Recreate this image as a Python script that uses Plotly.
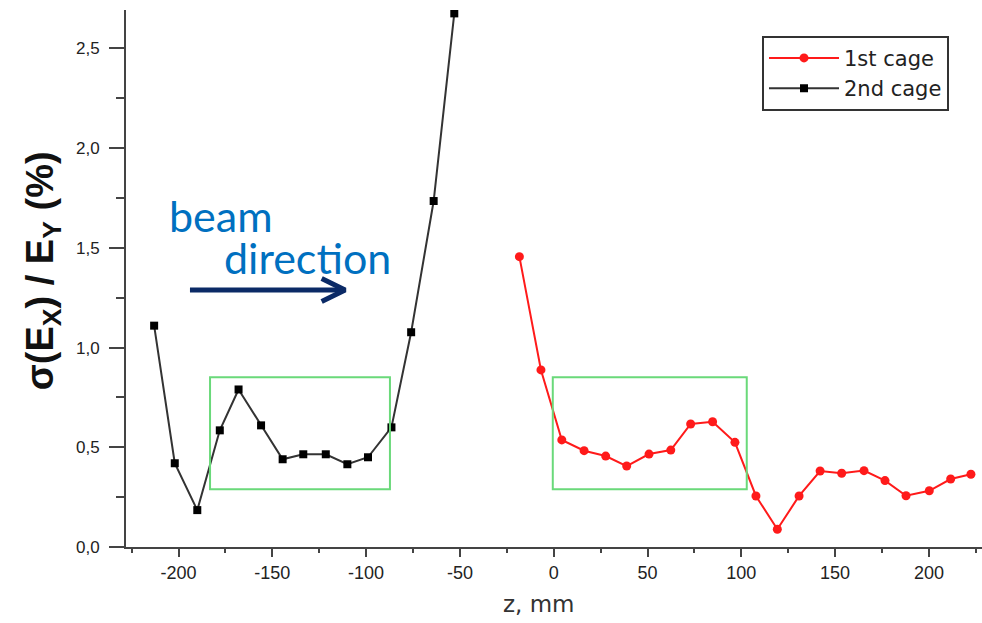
import plotly.graph_objects as go

# 2nd cage (black squares)
z_cage2 = [-213, -202, -190, -178, -168, -156, -144.5, -133.5, -121.5, -110, -99, -86.5, -76, -64, -53]
v_cage2 = [1.11, 0.42, 0.185, 0.585, 0.79, 0.61, 0.44, 0.465, 0.465, 0.415, 0.45, 0.60, 1.077, 1.735, 2.676]

# 1st cage (red circles)
z_cage1 = [-18.3, -6.8, 4.3, 16.2, 27.7, 38.9, 50.8, 62.4, 73, 84.7, 96.6, 107.8, 119.2,
           130.8, 142, 153.5, 165.4, 176.6, 187.8, 200.2, 211.6, 222.4]
v_cage1 = [1.456, 0.888, 0.537, 0.483, 0.456, 0.406, 0.466, 0.486, 0.617, 0.628, 0.525, 0.256,
           0.089, 0.256, 0.381, 0.37, 0.383, 0.333, 0.257, 0.282, 0.341, 0.365]

# green highlight boxes (z ranges, y range)
box_z = [(-183.2, -87.3), (-0.5, 102.9)]
box_y = (0.289, 0.851)

# beam direction arrow
arrow_z = (-193.9, -111.2)
arrow_y = 1.289
head_dz = 12.5
head_dy = 0.058

x_ticks = [-200, -150, -100, -50, 0, 50, 100, 150, 200]
x_ticklabels = ["-200", "-150", "-100", "-50", "0", "50", "100", "150", "200"]
y_ticks = [0.0, 0.5, 1.0, 1.5, 2.0, 2.5]
y_ticklabels = ["0,0", "0,5", "1,0", "1,5", "2,0", "2,5"]

fig = go.Figure()

for (z0, z1) in box_z:
    fig.add_shape(type="rect", xref="x", yref="y", x0=z0, x1=z1, y0=box_y[0], y1=box_y[1],
                  line=dict(color="#6ad97a", width=2), fillcolor="rgba(0,0,0,0)")

fig.add_trace(go.Scatter(
    x=z_cage1, y=v_cage1, mode="lines+markers", name="1st cage",
    line=dict(color="#ff1a1a", width=2),
    marker=dict(symbol="circle", size=9, color="#ff1a1a"),
))
fig.add_trace(go.Scatter(
    x=z_cage2, y=v_cage2, mode="lines+markers", name="2nd cage",
    line=dict(color="#333333", width=2),
    marker=dict(symbol="square", size=8, color="#000000"),
))

# arrow
fig.add_trace(go.Scatter(
    x=[arrow_z[0], arrow_z[1], None, arrow_z[1] - head_dz, arrow_z[1], arrow_z[1] - head_dz],
    y=[arrow_y, arrow_y, None, arrow_y + head_dy, arrow_y, arrow_y - head_dy],
    mode="lines", line=dict(color="#0b2a66", width=5), showlegend=False, hoverinfo="skip",
))

fig.add_annotation(x=-206, y=1.66, xref="x", yref="y", text="beam", showarrow=False,
                   xanchor="left", yanchor="middle",
                   font=dict(family="Lato", size=43, color="#0070c0"))
fig.add_annotation(x=-177, y=1.45, xref="x", yref="y", text="direction", showarrow=False,
                   xanchor="left", yanchor="middle",
                   font=dict(family="Lato", size=43, color="#0070c0"))

# y-axis title as annotation
fig.add_annotation(x=-0.096, y=0.515, xref="paper", yref="paper",
                   text="<b>σ(E<sub>X</sub>) / E<sub>Y</sub> (%)</b>", showarrow=False,
                   textangle=-90, xanchor="center", yanchor="middle",
                   font=dict(family="Arial", size=38, color="#111111"))
# x-axis title
fig.add_annotation(x=0.483, y=-0.107, xref="paper", yref="paper",
                   text="z, mm", showarrow=False, xanchor="center", yanchor="middle",
                   font=dict(family="DejaVu Sans", size=23, color="#333333"))

fig.update_layout(
    width=982, height=623,
    margin=dict(l=126, r=0, t=10, b=76),
    paper_bgcolor="white", plot_bgcolor="white",
    legend=dict(x=0.743, y=0.952, xanchor="left", yanchor="top",
                bordercolor="#333333", borderwidth=2, bgcolor="white",
                font=dict(family="DejaVu Sans", size=21, color="#222222"),
                itemwidth=70, tracegroupgap=0),
)
fig.update_xaxes(
    range=[-228, 228.3], showgrid=False, zeroline=False,
    showline=True, linecolor="#444444", linewidth=2,
    ticks="outside", ticklen=8, tickwidth=2, tickcolor="#444444",
    tickvals=x_ticks, ticktext=x_ticklabels,
    tickfont=dict(family="Arial", size=18, color="#222222"),
    minor=dict(ticks="outside", ticklen=4, tickwidth=2, tickcolor="#444444", dtick=25, tick0=0),
)
fig.update_yaxes(
    range=[0, 2.693], showgrid=False, zeroline=False,
    showline=True, linecolor="#444444", linewidth=2,
    ticks="outside", ticklen=15, tickwidth=2, tickcolor="#444444",
    tickvals=y_ticks, ticktext=y_ticklabels, ticklabelstandoff=6,
    tickfont=dict(family="Arial", size=17, color="#222222"),
    minor=dict(ticks="outside", ticklen=8, tickwidth=2, tickcolor="#444444", dtick=0.25, tick0=0),
)

fig.write_html("out.html")
